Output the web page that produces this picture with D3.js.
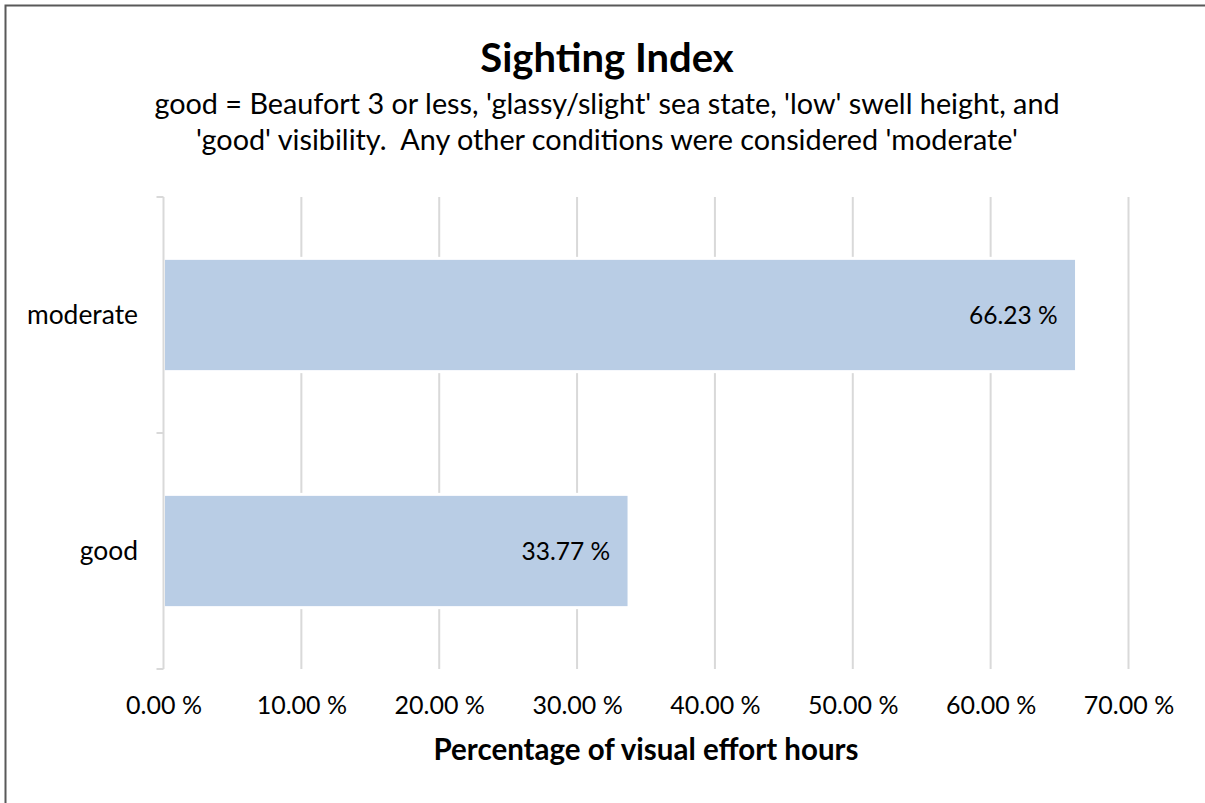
<!DOCTYPE html>
<meta charset="utf-8">
<script src="https://d3js.org/d3.v7.min.js"></script>
<style>
  body { margin: 0; background: #fff; overflow: hidden; }
  svg { display: block; font-family: Lato, "Open Sans", sans-serif; }
</style>
<div id="chart"></div>
<script>

// data
var categories = ["moderate", "good"];
var values = [66.23, 33.77];
var xTicks = [0, 10, 20, 30, 40, 50, 60, 70];
var titleText = "Sighting Index";
var subtitleLines = [
  "good = Beaufort 3 or less, 'glassy/slight' sea state, 'low' swell height, and",
  "'good' visibility.  Any other conditions were considered 'moderate'"
];
var xTitle = "Percentage of visual effort hours";

var width = 1205, height = 803;
var plot = { left: 163.5, right: 1128.5, top: 197, bottom: 669 };

var svg = d3.select("#chart").append("svg")
  .attr("width", width)
  .attr("height", height);

svg.append("rect")
  .attr("width", width).attr("height", height)
  .attr("fill", "#fff");

// outer border (only top and left are visible in the original)
svg.append("rect")
  .attr("x", 5.5).attr("y", 5.5)
  .attr("width", width + 10).attr("height", height + 10)
  .attr("fill", "none")
  .attr("stroke", "#595959")
  .attr("stroke-width", 2);

var x = d3.scaleLinear()
  .domain([0, 70])
  .range([plot.left, plot.right]);

var y = d3.scaleBand()
  .domain(categories)
  .range([plot.top, plot.bottom])
  .paddingInner(0.52)
  .paddingOuter(0.26);

// vertical gridlines
svg.append("g")
  .selectAll("line")
  .data(xTicks.filter(function(d) { return d > 0; }))
  .enter().append("line")
    .attr("x1", function(d) { return x(d); })
    .attr("x2", function(d) { return x(d); })
    .attr("y1", plot.top)
    .attr("y2", plot.bottom)
    .attr("stroke", "#d9d9d9")
    .attr("stroke-width", 2);

// bars
svg.append("g")
  .selectAll("rect")
  .data(categories)
  .enter().append("rect")
    .attr("x", x(0))
    .attr("y", function(d) { return y(d); })
    .attr("width", function(d, i) { return x(values[i]) - x(0); })
    .attr("height", y.bandwidth())
    .attr("fill", "#b9cde5")
    .attr("stroke", "#fff")
    .attr("stroke-width", 3);

// y axis line + ticks
var yAxis = svg.append("g")
  .attr("transform", "translate(" + plot.left + ",0)")
  .call(d3.axisLeft(y).tickSize(0).tickFormat(""));
yAxis.select(".domain").remove();
yAxis.append("line")
  .attr("y1", plot.top).attr("y2", plot.bottom)
  .attr("stroke", "#d9d9d9").attr("stroke-width", 2);
var yStep = y.step();
yAxis.selectAll(".sep")
  .data([plot.top, plot.top + yStep, plot.bottom])
  .enter().append("line")
    .attr("x1", -7).attr("x2", 0)
    .attr("y1", function(d) { return d; })
    .attr("y2", function(d) { return d; })
    .attr("stroke", "#d9d9d9").attr("stroke-width", 2);

// category labels
svg.append("g")
  .selectAll("text")
  .data(categories)
  .enter().append("text")
    .attr("x", 138)
    .attr("y", function(d) { return y(d) + y.bandwidth() / 2 + 9; })
    .attr("text-anchor", "end")
    .attr("font-size", 26.4)
    .attr("fill", "#000")
    .text(function(d) { return d; });

// x axis tick labels
var xAxis = svg.append("g")
  .attr("transform", "translate(0," + plot.bottom + ")")
  .call(d3.axisBottom(x).tickValues(xTicks).tickSize(0).tickPadding(0)
    .tickFormat(function(d) { return d.toFixed(2) + " %"; }));
xAxis.select(".domain").remove();
xAxis.selectAll("text")
  .attr("y", 45)
  .attr("dy", 0)
  .attr("font-size", 25)
  .attr("font-family", "Lato, sans-serif")
  .attr("fill", "#000");

// data labels
svg.append("g")
  .selectAll("text")
  .data(categories)
  .enter().append("text")
    .attr("x", function(d, i) { return x(values[i]) - 19; })
    .attr("y", function(d) { return y(d) + y.bandwidth() / 2 + 9; })
    .attr("text-anchor", "end")
    .attr("font-size", 24.5)
    .attr("fill", "#000")
    .text(function(d, i) { return values[i].toFixed(2) + " %"; });

// titles
svg.append("text")
  .attr("x", 607).attr("y", 72)
  .attr("text-anchor", "middle")
  .attr("font-size", 40)
  .attr("font-weight", "bold")
  .text(titleText);

svg.append("g")
  .selectAll("text")
  .data(subtitleLines)
  .enter().append("text")
    .attr("x", 607)
    .attr("y", function(d, i) { return 114 + i * 36; })
    .attr("text-anchor", "middle")
    .attr("font-size", 28.8)
    .attr("xml:space", "preserve")
    .style("white-space", "pre")
    .text(function(d) { return d; });

svg.append("text")
  .attr("x", (plot.left + plot.right) / 2).attr("y", 760)
  .attr("text-anchor", "middle")
  .attr("font-size", 29.5)
  .attr("font-weight", "bold")
  .text(xTitle);

</script>
